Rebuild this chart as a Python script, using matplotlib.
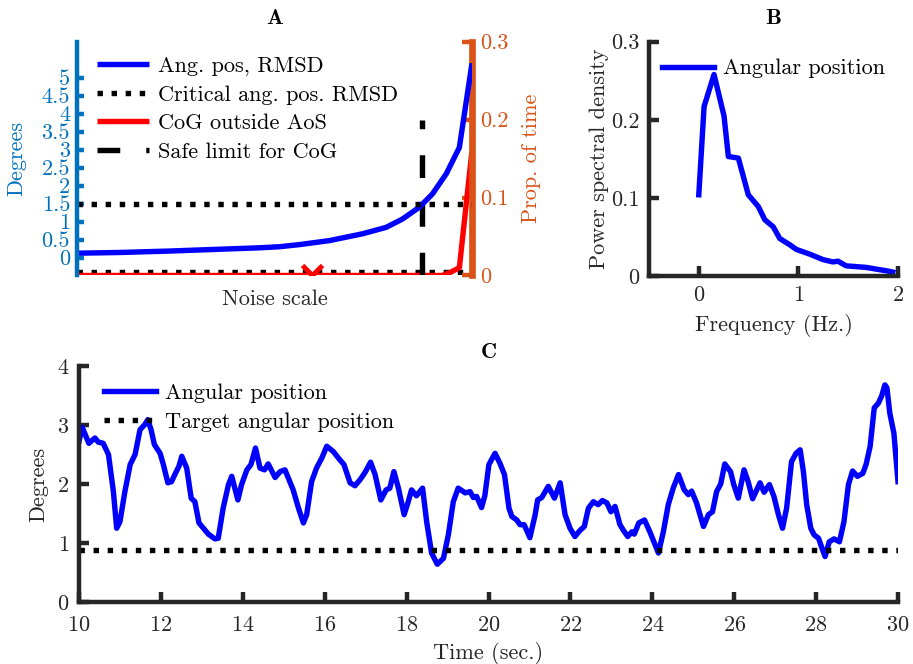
import numpy as np
import matplotlib
import matplotlib.pyplot as plt

matplotlib.use('Agg')

plt.rcParams['font.family'] = ['cmr10', 'DejaVu Serif']
plt.rcParams['axes.formatter.use_mathtext'] = True
plt.rcParams['mathtext.fontset'] = 'cm'

# Panel A: RMSD vs noise scale
noise_scale = [0.0, 0.109, 0.235, 0.361, 0.462, 0.513, 0.564, 0.639, 0.723, 0.783,
               0.824, 0.867, 0.9, 0.935, 0.968, 1.0]
rmsd = [0.12, 0.14, 0.18, 0.23, 0.27, 0.30, 0.36, 0.47, 0.66, 0.84,
        1.07, 1.40, 1.77, 2.33, 3.06, 5.40]
cog_noise = [0.0, 0.2, 0.4, 0.6, 0.8, 0.9, 0.925, 0.945, 0.968, 1.0]
cog_out = [0.0, 0.0, 0.0, 0.0, 0.0, 0.0, 0.0, 0.004, 0.01, 0.16]
critical_rmsd = 1.5
critical_cog = 0.005
safe_limit_x = 0.874
safe_limit_top = 0.2
marker_x = 0.595

# Panel B: power spectral density
freq = [0.0, 0.053, 0.153, 0.253, 0.297, 0.397, 0.497, 0.597, 0.663, 0.747, 0.813,
        0.913, 0.98, 1.113, 1.247, 1.347, 1.397, 1.48, 1.68, 1.913, 1.947]
psd = [0.104, 0.217, 0.258, 0.205, 0.153, 0.151, 0.104, 0.089, 0.072, 0.063, 0.048,
       0.040, 0.034, 0.028, 0.021, 0.018, 0.019, 0.013, 0.011, 0.006, 0.005]

# Panel C: angular position over time
t = [10.0, 10.08, 10.24, 10.39, 10.47, 10.59, 10.72, 10.84, 10.92, 11.0, 11.12, 11.25,
     11.37, 11.49, 11.61, 11.68, 11.76, 11.84, 11.98, 12.06, 12.17, 12.26, 12.34, 12.44,
     12.51, 12.63, 12.74, 12.83, 12.93, 13.04, 13.16, 13.32, 13.40, 13.52, 13.65, 13.73,
     13.88, 13.97, 14.10, 14.20, 14.31, 14.42, 14.53, 14.62, 14.79, 14.91, 15.03, 15.23,
     15.36, 15.48, 15.56, 15.68, 15.80, 15.93, 16.05, 16.21, 16.37, 16.47, 16.62, 16.74,
     16.86, 16.98, 17.12, 17.23, 17.37, 17.50, 17.59, 17.69, 17.80, 17.94, 18.04, 18.12,
     18.24, 18.39, 18.49, 18.61, 18.75, 18.90, 19.02, 19.14, 19.26, 19.43, 19.55, 19.63,
     19.71, 19.83, 19.91, 20.01, 20.16, 20.28, 20.39, 20.50, 20.57, 20.69, 20.77, 20.87,
     21.01, 21.14, 21.20, 21.30, 21.46, 21.61, 21.75, 21.87, 21.99, 22.11, 22.23, 22.34,
     22.44, 22.56, 22.68, 22.78, 22.89, 22.99, 23.09, 23.21, 23.29, 23.40, 23.50, 23.56,
     23.67, 23.81, 23.94, 24.15, 24.27, 24.39, 24.51, 24.64, 24.78, 24.88, 24.96, 25.08,
     25.25, 25.37, 25.47, 25.57, 25.67, 25.77, 25.91, 25.99, 26.10, 26.24, 26.34, 26.45,
     26.55, 26.63, 26.73, 26.86, 26.97, 27.08, 27.18, 27.28, 27.40, 27.51, 27.61, 27.69,
     27.77, 27.87, 27.95, 28.06, 28.16, 28.22, 28.32, 28.44, 28.57, 28.68, 28.79, 28.89,
     29.01, 29.14, 29.22, 29.32, 29.42, 29.52, 29.60, 29.68, 29.73, 29.80, 29.90, 30.0]
ang = [2.72, 2.96, 2.69, 2.78, 2.71, 2.69, 2.50, 1.87, 1.25, 1.36, 1.87, 2.33,
       2.50, 2.92, 3.01, 3.09, 2.92, 2.67, 2.52, 2.33, 2.02, 2.04, 2.16, 2.30,
       2.47, 2.27, 1.76, 1.70, 1.34, 1.25, 1.15, 1.07, 1.08, 1.59, 1.99, 2.13,
       1.73, 1.99, 2.24, 2.33, 2.61, 2.27, 2.24, 2.34, 2.11, 2.21, 2.24, 1.90,
       1.59, 1.34, 1.48, 2.04, 2.27, 2.44, 2.64, 2.55, 2.41, 2.33, 2.02, 1.97,
       2.07, 2.19, 2.37, 2.16, 1.73, 1.90, 1.93, 2.21, 1.93, 1.48, 1.70, 1.90,
       1.80, 1.93, 1.36, 0.83, 0.64, 0.74, 1.14, 1.70, 1.93, 1.85, 1.87, 1.77,
       1.79, 1.60, 1.80, 2.33, 2.52, 2.35, 2.16, 1.59, 1.45, 1.39, 1.31, 1.31,
       1.09, 1.48, 1.73, 1.77, 1.96, 1.76, 2.02, 1.48, 1.25, 1.11, 1.21, 1.28,
       1.59, 1.70, 1.65, 1.72, 1.68, 1.53, 1.62, 1.31, 1.22, 1.11, 1.19, 1.15,
       1.34, 1.39, 1.19, 0.83, 1.19, 1.65, 1.93, 2.16, 1.90, 1.82, 1.88, 1.68,
       1.28, 1.48, 1.53, 1.87, 2.00, 2.34, 2.21, 1.99, 1.76, 2.24, 2.04, 1.75,
       1.90, 2.02, 1.86, 1.99, 1.79, 1.48, 1.25, 1.59, 2.38, 2.52, 2.58, 2.21,
       1.65, 1.25, 1.14, 1.08, 0.88, 0.77, 1.02, 1.07, 1.02, 1.36, 1.99, 2.22,
       2.13, 2.18, 2.33, 2.64, 3.29, 3.37, 3.49, 3.68, 3.63, 3.20, 2.86, 2.04]
target_ang = 0.88

BLUE = '#0000FF'
AXBLUE = '#0072BD'
ORANGE = '#D95319'
DARK = '#262626'
LW = 3.9
SPW = 3.2
FS = 16

fig = plt.figure(figsize=(9.13, 6.64), dpi=100)


def style_axes(ax, color=DARK, pad=7):
    for s in ['top', 'right']:
        ax.spines[s].set_visible(False)
    for s in ['left', 'bottom']:
        ax.spines[s].set_linewidth(SPW)
        ax.spines[s].set_color(color)
    ax.tick_params(direction='in', length=7, width=SPW, colors=color,
                   labelsize=FS, labelcolor=color, pad=pad)


# ---- Panel A ----
axA = fig.add_axes([77 / 913, 1 - 275.5 / 664, 395 / 913, 233.8 / 664])
axA2 = axA.twinx()
axA.set_zorder(axA2.get_zorder() + 1)
axA.patch.set_visible(False)

l_blue, = axA.plot(noise_scale, rmsd, color=BLUE, lw=LW, solid_capstyle='butt')
l_crit, = axA.plot([0, 1], [critical_rmsd, critical_rmsd], color='k', lw=LW,
                   dashes=(1, 1.6), dash_capstyle='butt')
axA.set_ylim(-0.5, 6.0)
axA.set_xlim(0, 1)
axA.set_yticks(np.arange(0, 5.01, 0.5))
axA.set_yticklabels(['0', '0.5', '1', '1.5', '2', '2.5', '3', '3.5', '4', '4.5', '5'])
for s in ['top', 'right', 'bottom']:
    axA.spines[s].set_visible(False)
axA.spines['left'].set_linewidth(SPW)
axA.spines['left'].set_color(AXBLUE)
axA.tick_params(axis='y', direction='in', length=5, width=SPW, colors=AXBLUE,
                labelsize=FS, pad=5)
axA.tick_params(axis='x', bottom=False, labelbottom=False)
axA.set_ylabel('Degrees', color=AXBLUE, fontsize=FS, labelpad=11)
axA.set_xlabel('Noise scale', color=DARK, fontsize=FS, labelpad=10)
axA.set_title('A', fontsize=FS, fontfamily='cmb10', color='k', pad=13)

l_red, = axA2.plot(cog_noise, cog_out, color='#FF0000', lw=LW, solid_capstyle='butt')
axA2.plot([0, 1], [critical_cog, critical_cog], color='k', lw=LW,
          dashes=(1, 1.6), dash_capstyle='butt', zorder=1)
l_safe, = axA2.plot([safe_limit_x, safe_limit_x], [0, safe_limit_top], color='k',
                    lw=LW, dashes=(4.2, 4.8), dash_capstyle='butt')
axA2.plot([marker_x], [0], marker='x', color='#FF0000', ms=14, mew=3.5)
axA2.set_ylim(0, 0.3)
axA2.set_yticks([0, 0.1, 0.2, 0.3])
axA2.set_yticklabels(['0', '0.1', '0.2', '0.3'])
for s in ['top', 'left', 'bottom']:
    axA2.spines[s].set_visible(False)
axA2.spines['right'].set_linewidth(SPW * 1.5)
axA2.spines['right'].set_color(ORANGE)
axA2.tick_params(axis='y', direction='in', length=7, width=SPW, colors=ORANGE,
                 labelsize=FS, pad=6)
axA2.set_ylabel('Prop. of time', color=ORANGE, fontsize=FS, labelpad=9)

axA.legend([l_blue, l_crit, l_red, l_safe],
           ['Ang. pos, RMSD', 'Critical ang. pos. RMSD', 'CoG outside AoS',
            'Safe limit for CoG'],
           loc='upper left', bbox_to_anchor=(0.027, 0.975), frameon=False,
           fontsize=FS, handlelength=2.35, handletextpad=0.4, labelspacing=0.4,
           borderaxespad=0)

# ---- Panel B ----
axB = fig.add_axes([649 / 913, 1 - 276 / 664, 249 / 913, 234.3 / 664])
axB.plot(freq, psd, color=BLUE, lw=LW, label='Angular position')
axB.set_xlim(-0.5, 2)
axB.set_ylim(0, 0.3)
axB.set_xticks([0, 1, 2])
axB.set_yticks([0, 0.1, 0.2, 0.3])
axB.set_yticklabels(['0', '0.1', '0.2', '0.3'])
style_axes(axB)
axB.set_xlabel('Frequency (Hz.)', fontsize=FS, color=DARK, labelpad=6)
axB.set_ylabel('Power spectral density', fontsize=FS, color=DARK, labelpad=1)
axB.set_title('B', fontsize=FS, fontfamily='cmb10', color='k', pad=13)
axB.legend(loc='upper left', bbox_to_anchor=(0.015, 0.965), frameon=False,
           fontsize=FS, handlelength=2.35, handletextpad=0.4, borderaxespad=0)

# ---- Panel C ----
axC = fig.add_axes([79 / 913, 1 - 602 / 664, 819 / 913, 236 / 664])
axC.plot(t, ang, color=BLUE, lw=LW, label='Angular position')
axC.plot([10, 30], [target_ang, target_ang], color='k', lw=LW, dashes=(1, 1.6),
         dash_capstyle='butt', label='Target angular position')
axC.set_xlim(10, 30)
axC.set_ylim(0, 4)
axC.set_xticks(np.arange(10, 31, 2))
axC.set_yticks([0, 1, 2, 3, 4])
style_axes(axC)
axC.tick_params(axis='x', pad=10)
axC.set_xlabel('Time (sec.)', fontsize=FS, color=DARK, labelpad=5)
axC.set_ylabel('Degrees', fontsize=FS, color=DARK, labelpad=6)
axC.set_title('C', fontsize=FS, fontfamily='cmb10', color='k', pad=6)
axC.legend(loc='upper left', bbox_to_anchor=(0.02, 0.965), frameon=False,
           fontsize=FS, handlelength=2.35, handletextpad=0.4, labelspacing=0.45,
           borderaxespad=0)

fig.savefig('out.png', dpi=100)
